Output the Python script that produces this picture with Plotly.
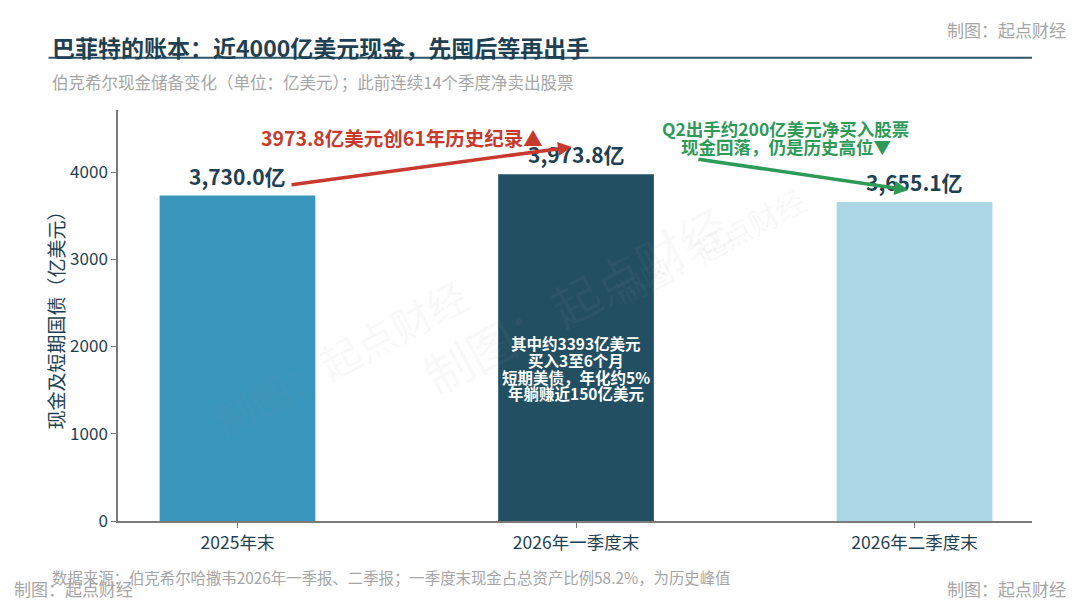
import plotly.graph_objects as go

categories = ["2025年末", "2026年一季度末", "2026年二季度末"]
cash_values = [3730.0, 3973.8, 3655.1]
bar_colors = ["#3A95BB", "#234F63", "#ABD6E6"]
y_ticks = [0, 1000, 2000, 3000, 4000]

title_text = "巴菲特的账本：近4000亿美元现金，先囤后等再出手"
subtitle_text = "伯克希尔现金储备变化（单位：亿美元）；此前连续14个季度净卖出股票"
source_text = "数据来源：伯克希尔哈撒韦2026年一季报、二季报；一季度末现金占总资产比例58.2%，为历史峰值"
credit_text = "制图：起点财经"
ytitle_text = "现金及短期国债（亿美元）"
red_note = "3973.8亿美元创61年历史纪录▲"
green_lines = ["Q2出手约200亿美元净买入股票", "现金回落，仍是历史高位▼"]
inner_lines = ["其中约3393亿美元", "买入3至6个月", "短期美债，年化约5%", "年躺赚近150亿美元"]

FONT = "Noto Sans CJK SC"
DARK = "#1F3F52"
GRAY = "#A6A6A6"
RED = "#C8392E"
GREEN = "#2E9A58"

xs = list(range(len(categories)))

fig = go.Figure()
fig.add_trace(go.Bar(
    x=xs, y=cash_values, width=0.46,
    marker=dict(color=bar_colors, line=dict(width=0)),
    hoverinfo="skip",
))

ann = []
# faint watermarks
for (px, py, sz) in [(0.50, 0.54, 48), (0.763, 0.842, 30), (0.09, 0.17, 40)]:
    ann.append(dict(xref="paper", yref="paper", x=px, y=py, text=credit_text,
                    showarrow=False, textangle=-28,
                    font=dict(family=FONT, size=sz, color="rgba(150,150,150,0.07)")))

# value labels
for i, v in enumerate(cash_values):
    ann.append(dict(x=i, y=v, xref="x", yref="y", text=f"{v:,.1f}亿",
                    showarrow=False, yanchor="bottom", yshift=3,
                    font=dict(family=FONT, size=21, color=DARK, weight="bold")))

# arrows
ann.append(dict(x=0.988, y=4287, ax=0.155, ay=3851, xref="x", yref="y", axref="x", ayref="y",
                showarrow=True, arrowhead=2, arrowsize=0.8, arrowwidth=3.5, arrowcolor=RED, text=""))
ann.append(dict(x=1.982, y=3794, ax=1.357, ay=4149, xref="x", yref="y", axref="x", ayref="y",
                showarrow=True, arrowhead=2, arrowsize=0.8, arrowwidth=3.5, arrowcolor=GREEN, text=""))
ann.append(dict(x=0.486, y=4401, xref="x", yref="y", text=red_note, showarrow=False,
                font=dict(family=FONT, size=19.5, color=RED, weight="bold")))
for line, yy in zip(green_lines, [4504, 4298]):
    ann.append(dict(x=1.62, y=yy, xref="x", yref="y", text=line, showarrow=False,
                    font=dict(family=FONT, size=17.5, color=GREEN, weight="bold")))
for line, yy in zip(inner_lines, [2040, 1845, 1650, 1467]):
    ann.append(dict(x=1, y=yy, xref="x", yref="y", text=line, showarrow=False,
                    font=dict(family=FONT, size=15.5, color="white", weight="bold")))

# titles and notes
ann.append(dict(xref="paper", yref="paper", x=-0.074, y=1.153, xanchor="left", yanchor="middle",
                text=title_text, showarrow=False,
                font=dict(family=FONT, size=23, color=DARK, weight="bold")))
ann.append(dict(xref="paper", yref="paper", x=-0.074, y=1.068, xanchor="left", yanchor="middle",
                text=subtitle_text, showarrow=False,
                font=dict(family=FONT, size=16.5, color=GRAY)))
ann.append(dict(xref="paper", yref="paper", x=1.039, y=1.195, xanchor="right", yanchor="middle",
                text=credit_text, showarrow=False,
                font=dict(family=FONT, size=17, color=GRAY)))
ann.append(dict(xref="paper", yref="paper", x=-0.074, y=-0.136, xanchor="left", yanchor="middle",
                text=source_text, showarrow=False,
                font=dict(family=FONT, size=15.4, color=GRAY)))
ann.append(dict(xref="paper", yref="paper", x=-0.116, y=-0.165, xanchor="left", yanchor="middle",
                text=credit_text, showarrow=False,
                font=dict(family=FONT, size=17, color=GRAY)))
ann.append(dict(xref="paper", yref="paper", x=1.039, y=-0.165, xanchor="right", yanchor="middle",
                text=credit_text, showarrow=False,
                font=dict(family=FONT, size=17, color=GRAY)))

fig.update_layout(
    width=1072, height=596,
    margin=dict(l=110, r=48, t=102, b=83, autoexpand=False),
    paper_bgcolor="white", plot_bgcolor="white",
    showlegend=False,
    font=dict(family=FONT, color=DARK),
    annotations=ann,
    shapes=[dict(type="line", xref="paper", yref="paper", x0=-0.076, x1=1.0, y0=1.127, y1=1.127,
                 line=dict(color="#2F5466", width=2))],
    xaxis=dict(range=[-0.353, 2.347], tickmode="array", tickvals=xs, ticktext=categories,
               showline=True, linecolor="#7A7A7A", linewidth=1.5, ticks="outside",
               ticklen=5, tickcolor="#7A7A7A", showgrid=False, zeroline=False, automargin=False,
               tickfont=dict(family=FONT, size=17.5, color=DARK)),
    yaxis=dict(range=[0, 4711], tickmode="array", tickvals=y_ticks,
               showline=True, linecolor="#7A7A7A", linewidth=1.5, ticks="outside",
               ticklen=5, tickcolor="#7A7A7A", showgrid=False, zeroline=False, automargin=False,
               tickfont=dict(family=FONT, size=17, color=DARK),
               title=dict(text=ytitle_text, font=dict(family=FONT, size=19, color=DARK), standoff=0)),
)

fig.write_html("out.html")
